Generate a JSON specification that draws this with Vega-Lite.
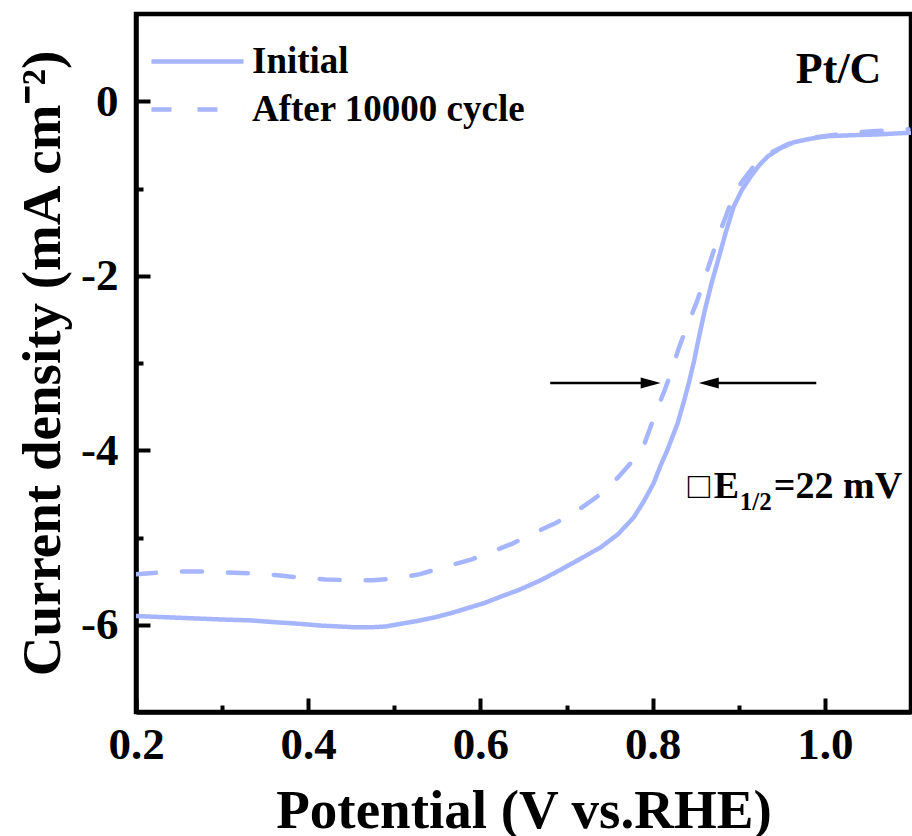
{
  "$schema": "https://vega.github.io/schema/vega-lite/v6.json",
  "width": 775,
  "height": 698,
  "autosize": {"type": "none"},
  "padding": {"left": 136, "top": 14, "right": 1, "bottom": 124},
  "background": "white",
  "config": {
    "view": {"stroke": "black", "strokeWidth": 4.5},
    "font": "Liberation Serif, Times New Roman, serif",
    "axis": {
      "grid": false,
      "domainColor": "black",
      "domainWidth": 4.5,
      "tickColor": "black",
      "tickWidth": 4,
      "labelFont": "Liberation Serif, Times New Roman, serif",
      "labelFontWeight": "bold",
      "labelFontSize": 45,
      "labelColor": "black",
      "labelFlush": false,
      "labelOverlap": false,
      "titleFont": "Liberation Serif, Times New Roman, serif",
      "titleFontWeight": "bold",
      "titleFontSize": 55,
      "titleColor": "black"
    }
  },
  "resolve": {"axis": {"x": "independent", "y": "independent"}},
  "datasets": {
    "curves": [
      {"series": "Initial", "potential": 0.200, "current": -5.90},
      {"series": "Initial", "potential": 0.225, "current": -5.91},
      {"series": "Initial", "potential": 0.250, "current": -5.92},
      {"series": "Initial", "potential": 0.275, "current": -5.93},
      {"series": "Initial", "potential": 0.300, "current": -5.94},
      {"series": "Initial", "potential": 0.333, "current": -5.95},
      {"series": "Initial", "potential": 0.360, "current": -5.97},
      {"series": "Initial", "potential": 0.391, "current": -5.99},
      {"series": "Initial", "potential": 0.415, "current": -6.01},
      {"series": "Initial", "potential": 0.437, "current": -6.02},
      {"series": "Initial", "potential": 0.455, "current": -6.03},
      {"series": "Initial", "potential": 0.472, "current": -6.03},
      {"series": "Initial", "potential": 0.490, "current": -6.02},
      {"series": "Initial", "potential": 0.507, "current": -5.99},
      {"series": "Initial", "potential": 0.525, "current": -5.96},
      {"series": "Initial", "potential": 0.545, "current": -5.92},
      {"series": "Initial", "potential": 0.565, "current": -5.87},
      {"series": "Initial", "potential": 0.585, "current": -5.81},
      {"series": "Initial", "potential": 0.605, "current": -5.75},
      {"series": "Initial", "potential": 0.623, "current": -5.68},
      {"series": "Initial", "potential": 0.645, "current": -5.60},
      {"series": "Initial", "potential": 0.670, "current": -5.49},
      {"series": "Initial", "potential": 0.693, "current": -5.37},
      {"series": "Initial", "potential": 0.715, "current": -5.25},
      {"series": "Initial", "potential": 0.740, "current": -5.11},
      {"series": "Initial", "potential": 0.760, "current": -4.96},
      {"series": "Initial", "potential": 0.778, "current": -4.77},
      {"series": "Initial", "potential": 0.790, "current": -4.58},
      {"series": "Initial", "potential": 0.801, "current": -4.38},
      {"series": "Initial", "potential": 0.809, "current": -4.18},
      {"series": "Initial", "potential": 0.817, "current": -4.00},
      {"series": "Initial", "potential": 0.829, "current": -3.69},
      {"series": "Initial", "potential": 0.836, "current": -3.45},
      {"series": "Initial", "potential": 0.842, "current": -3.23},
      {"series": "Initial", "potential": 0.848, "current": -2.98},
      {"series": "Initial", "potential": 0.853, "current": -2.74},
      {"series": "Initial", "potential": 0.860, "current": -2.42},
      {"series": "Initial", "potential": 0.868, "current": -2.10},
      {"series": "Initial", "potential": 0.876, "current": -1.82},
      {"series": "Initial", "potential": 0.885, "current": -1.50},
      {"series": "Initial", "potential": 0.894, "current": -1.21},
      {"series": "Initial", "potential": 0.904, "current": -1.01},
      {"series": "Initial", "potential": 0.914, "current": -0.86},
      {"series": "Initial", "potential": 0.924, "current": -0.73},
      {"series": "Initial", "potential": 0.934, "current": -0.63},
      {"series": "Initial", "potential": 0.948, "current": -0.54},
      {"series": "Initial", "potential": 0.964, "current": -0.47},
      {"series": "Initial", "potential": 0.983, "current": -0.43},
      {"series": "Initial", "potential": 1.003, "current": -0.40},
      {"series": "Initial", "potential": 1.030, "current": -0.39},
      {"series": "Initial", "potential": 1.062, "current": -0.38},
      {"series": "Initial", "potential": 1.100, "current": -0.36},
      {"series": "After 10000 cycle", "potential": 0.200, "current": -5.42},
      {"series": "After 10000 cycle", "potential": 0.216, "current": -5.41},
      {"series": "After 10000 cycle", "potential": 0.245, "current": -5.39},
      {"series": "After 10000 cycle", "potential": 0.274, "current": -5.39},
      {"series": "After 10000 cycle", "potential": 0.300, "current": -5.40},
      {"series": "After 10000 cycle", "potential": 0.333, "current": -5.41},
      {"series": "After 10000 cycle", "potential": 0.362, "current": -5.43},
      {"series": "After 10000 cycle", "potential": 0.391, "current": -5.46},
      {"series": "After 10000 cycle", "potential": 0.420, "current": -5.48},
      {"series": "After 10000 cycle", "potential": 0.449, "current": -5.49},
      {"series": "After 10000 cycle", "potential": 0.475, "current": -5.49},
      {"series": "After 10000 cycle", "potential": 0.501, "current": -5.47},
      {"series": "After 10000 cycle", "potential": 0.530, "current": -5.42},
      {"series": "After 10000 cycle", "potential": 0.547, "current": -5.37},
      {"series": "After 10000 cycle", "potential": 0.565, "current": -5.32},
      {"series": "After 10000 cycle", "potential": 0.590, "current": -5.25},
      {"series": "After 10000 cycle", "potential": 0.612, "current": -5.17},
      {"series": "After 10000 cycle", "potential": 0.637, "current": -5.07},
      {"series": "After 10000 cycle", "potential": 0.662, "current": -4.95},
      {"series": "After 10000 cycle", "potential": 0.688, "current": -4.83},
      {"series": "After 10000 cycle", "potential": 0.713, "current": -4.69},
      {"series": "After 10000 cycle", "potential": 0.737, "current": -4.52},
      {"series": "After 10000 cycle", "potential": 0.759, "current": -4.32},
      {"series": "After 10000 cycle", "potential": 0.776, "current": -4.13},
      {"series": "After 10000 cycle", "potential": 0.790, "current": -3.94},
      {"series": "After 10000 cycle", "potential": 0.798, "current": -3.72},
      {"series": "After 10000 cycle", "potential": 0.806, "current": -3.51},
      {"series": "After 10000 cycle", "potential": 0.814, "current": -3.31},
      {"series": "After 10000 cycle", "potential": 0.821, "current": -3.12},
      {"series": "After 10000 cycle", "potential": 0.830, "current": -2.84},
      {"series": "After 10000 cycle", "potential": 0.836, "current": -2.68},
      {"series": "After 10000 cycle", "potential": 0.844, "current": -2.48},
      {"series": "After 10000 cycle", "potential": 0.852, "current": -2.28},
      {"series": "After 10000 cycle", "potential": 0.861, "current": -2.01},
      {"series": "After 10000 cycle", "potential": 0.870, "current": -1.74},
      {"series": "After 10000 cycle", "potential": 0.880, "current": -1.45},
      {"series": "After 10000 cycle", "potential": 0.891, "current": -1.16},
      {"series": "After 10000 cycle", "potential": 0.903, "current": -0.93},
      {"series": "After 10000 cycle", "potential": 0.917, "current": -0.75},
      {"series": "After 10000 cycle", "potential": 0.935, "current": -0.60},
      {"series": "After 10000 cycle", "potential": 0.957, "current": -0.49},
      {"series": "After 10000 cycle", "potential": 0.985, "current": -0.42},
      {"series": "After 10000 cycle", "potential": 1.022, "current": -0.37},
      {"series": "After 10000 cycle", "potential": 1.060, "current": -0.34},
      {"series": "After 10000 cycle", "potential": 1.097, "current": -0.32}
    ]
  },
  "layer": [
    {
      "data": {"name": "curves"},
      "mark": {"type": "line", "color": "#a6b5ff", "strokeWidth": 4.5, "strokeCap": "round", "clip": true},
      "encoding": {
        "x": {
          "field": "potential", "type": "quantitative",
          "scale": {"domain": [0.2, 1.1], "nice": false, "zero": false},
          "axis": {
            "orient": "bottom",
            "title": "Potential (V vs.RHE)",
            "values": [0.2, 0.4, 0.6, 0.8, 1.0],
            "format": ".1f",
            "tickSize": -14,
            "labelPadding": 24,
            "titlePadding": 17
          }
        },
        "y": {
          "field": "current", "type": "quantitative",
          "scale": {"domain": [-7, 1], "nice": false, "zero": false},
          "axis": {
            "orient": "left",
            "title": "Current density (mA cm⁻²)",
            "values": [-6, -4, -2, 0],
            "labelExpr": "''+datum.value",
            "tickSize": -14,
            "labelPadding": 32,
            "titlePadding": 9
          }
        },
        "strokeDash": {
          "field": "series", "type": "nominal",
          "scale": {"domain": ["Initial", "After 10000 cycle"], "range": [[1, 0], [20, 26]]},
          "legend": {
            "orient": "none",
            "legendX": 43,
            "legendY": 29,
            "title": null,
            "symbolType": "M-5,0H5",
            "symbolSize": 339,
            "symbolStrokeColor": "#a6b5ff",
            "symbolStrokeWidth": 4.5,
            "labelFont": "Liberation Serif, Times New Roman, serif",
            "labelFontWeight": "bold",
            "labelFontSize": 37,
            "labelColor": "black",
            "labelOffset": 36,
            "labelLimit": 500,
            "rowPadding": 10
          }
        }
      }
    },
    {
      "data": {"name": "curves"},
      "mark": {"type": "line", "opacity": 0, "clip": true},
      "encoding": {
        "x": {
          "field": "potential", "type": "quantitative",
          "axis": {
            "orient": "bottom",
            "title": null,
            "values": [0.3, 0.5, 0.7, 0.9],
            "labels": false,
            "domain": false,
            "tickSize": -7
          }
        },
        "y": {
          "field": "current", "type": "quantitative",
          "axis": {
            "orient": "left",
            "title": null,
            "values": [-5, -3, -1],
            "labels": false,
            "domain": false,
            "tickSize": -7
          }
        },
        "detail": {"field": "series"}
      }
    },
    {
      "data": {"values": [{}]},
      "mark": {"type": "rule", "color": "black", "strokeWidth": 2.5},
      "encoding": {"x": {"datum": 0.681, "axis": null}, "x2": {"datum": 0.798}, "y": {"datum": -3.23, "axis": null}}
    },
    {
      "data": {"values": [{}]},
      "mark": {"type": "rule", "color": "black", "strokeWidth": 2.5},
      "encoding": {"x": {"datum": 0.865, "axis": null}, "x2": {"datum": 0.990}, "y": {"datum": -3.23, "axis": null}}
    },
    {
      "data": {"values": [{}]},
      "mark": {"type": "point", "shape": "M-1,-0.55L1,0L-1,0.55Z", "size": 400, "filled": true, "color": "black", "opacity": 1},
      "encoding": {"x": {"datum": 0.7977, "axis": null}, "y": {"datum": -3.23, "axis": null}}
    },
    {
      "data": {"values": [{}]},
      "mark": {"type": "point", "shape": "M1,-0.55L-1,0L1,0.55Z", "size": 400, "filled": true, "color": "black", "opacity": 1},
      "encoding": {"x": {"datum": 0.8651, "axis": null}, "y": {"datum": -3.23, "axis": null}}
    },
    {
      "data": {"values": [{}]},
      "mark": {"type": "text", "font": "Liberation Serif, Times New Roman, serif", "fontWeight": "bold", "fontSize": 44, "align": "left", "baseline": "alphabetic", "color": "black"},
      "encoding": {"x": {"datum": 0.9663, "axis": null}, "y": {"datum": 0.207, "axis": null}, "text": {"value": "Pt/C"}}
    },
    {
      "data": {"values": [{}]},
      "mark": {"type": "text", "font": "Liberation Serif, Times New Roman, serif", "fontWeight": "bold", "fontSize": 37, "align": "left", "baseline": "alphabetic", "color": "black"},
      "encoding": {"x": {"datum": 0.8407, "axis": null}, "y": {"datum": -4.552, "axis": null}, "text": {"value": "□"}}
    },
    {
      "data": {"values": [{}]},
      "mark": {"type": "text", "font": "Liberation Serif, Times New Roman, serif", "fontWeight": "bold", "fontSize": 38, "align": "left", "baseline": "alphabetic", "color": "black"},
      "encoding": {"x": {"datum": 0.8709, "axis": null}, "y": {"datum": -4.552, "axis": null}, "text": {"value": "E"}}
    },
    {
      "data": {"values": [{}]},
      "mark": {"type": "text", "font": "Liberation Serif, Times New Roman, serif", "fontWeight": "bold", "fontSize": 25, "align": "left", "baseline": "alphabetic", "color": "black"},
      "encoding": {"x": {"datum": 0.9012, "axis": null}, "y": {"datum": -4.69, "axis": null}, "text": {"value": "1/2"}}
    },
    {
      "data": {"values": [{}]},
      "mark": {"type": "text", "font": "Liberation Serif, Times New Roman, serif", "fontWeight": "bold", "fontSize": 38, "align": "left", "baseline": "alphabetic", "color": "black"},
      "encoding": {"x": {"datum": 0.9407, "axis": null}, "y": {"datum": -4.552, "axis": null}, "text": {"value": "=22 mV"}}
    }
  ]
}
